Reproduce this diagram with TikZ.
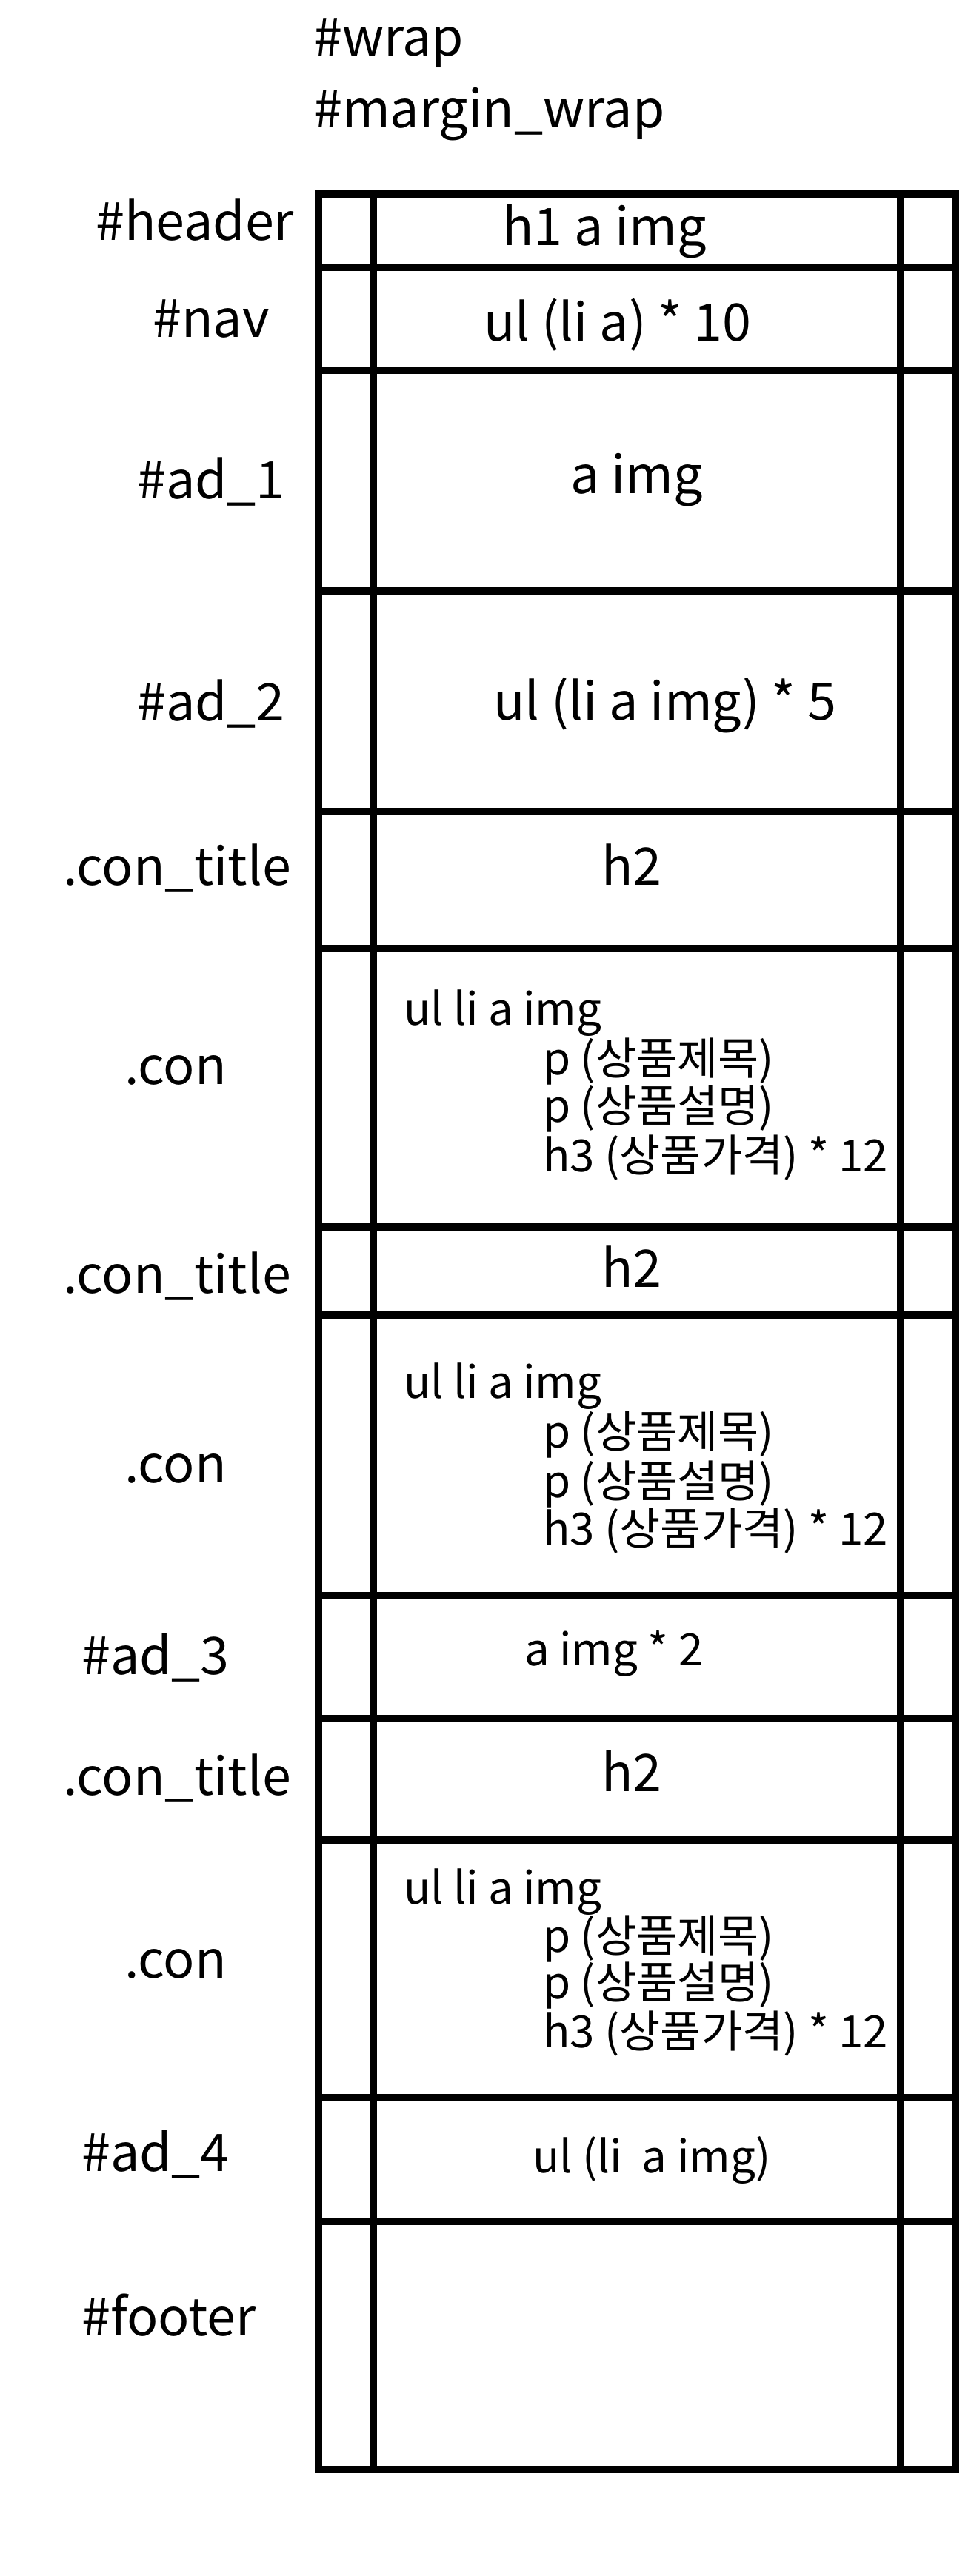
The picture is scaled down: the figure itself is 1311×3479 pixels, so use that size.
\documentclass[tikz,border=0pt]{standalone}
\usepackage{fontspec}
\setmainfont{Noto Sans CJK KR}
\begin{document}
\begin{tikzpicture}[x=1pt,y=-1pt,
  grid/.style={line width=10pt},
  lab/.style={anchor=base west,inner sep=0pt,font=\fontsize{70}{84}\selectfont},
  big/.style={anchor=base west,inner sep=0pt,font=\fontsize{70}{84}\selectfont},
  small/.style={anchor=base west,inner sep=0pt,font=\fontsize{60}{70}\selectfont}]
\useasboundingbox (0,0) rectangle (1311,3479);
% grid
\foreach \yy in {262,361,500,798,1096,1281,1657,1776,2155,2321,2485,2833,3000,3335}
  \draw[grid,line cap=rect] (430,\yy) -- (1290,\yy);
\foreach \xx in {430,504,1216,1290}
  \draw[grid,line cap=rect] (\xx,262) -- (\xx,3335);
% top titles
\node[lab] (wrap) at (423,76) {\#wrap};
\node[lab] (mwrap) at (423,172) {\#margin\_wrap};
% left labels
\node[lab] (lheader) at (129,324) {\#header};
\node[lab] (lnav) at (206,455) {\#nav};
\node[lab] (lad1) at (185,673) {\#ad\_1};
\node[lab] (lad2) at (185,973) {\#ad\_2};
\node[lab] (lct1) at (85,1195) {.con\_title};
\node[lab] (lcon1) at (168,1464) {.con};
\node[lab] (lct2) at (85,1746) {.con\_title};
\node[lab] (lcon2) at (168,2002) {.con};
\node[lab] (lad3) at (110,2261) {\#ad\_3};
\node[lab] (lct3) at (85,2424) {.con\_title};
\node[lab] (lcon3) at (168,2671) {.con};
\node[lab] (lad4) at (110,2932) {\#ad\_4};
\node[lab] (lfooter) at (110,3154) {\#footer};
% contents
\node[big] (cheader) at (678,331) {h1 a img};
\node[big] (cnav) at (653,460) {ul (li a) * 10};
\node[big] (cad1) at (770,666) {a img};
\node[big] (cad2) at (666,972) {ul (li a img) * 5};
\node[big] (ct1) at (812,1195) {h2};
\node[small] (c1a) at (545,1384) {ul li a img};
\node[small] (c1b) at (733,1451) {p (상품제목)};
\node[small] (c1c) at (733,1515) {p (상품설명)};
\node[small] (c1d) at (733,1582) {h3 (상품가격) * 12};
\node[big] (ct2) at (812,1738) {h2};
\node[small] (c2a) at (545,1888) {ul li a img};
\node[small] (c2b) at (733,1955) {p (상품제목)};
\node[small] (c2c) at (733,2022) {p (상품설명)};
\node[small] (c2d) at (733,2086) {h3 (상품가격) * 12};
\node[small] (cad3) at (708,2249) {a img * 2};
\node[big] (ct3) at (812,2419) {h2};
\node[small] (c3a) at (545,2571) {ul li a img};
\node[small] (c3b) at (733,2636) {p (상품제목)};
\node[small] (c3c) at (733,2699) {p (상품설명)};
\node[small] (c3d) at (733,2765) {h3 (상품가격) * 12};
\node[small] (cad4) at (719,2934) {ul (li~~a img)};
\end{tikzpicture}
\end{document}
